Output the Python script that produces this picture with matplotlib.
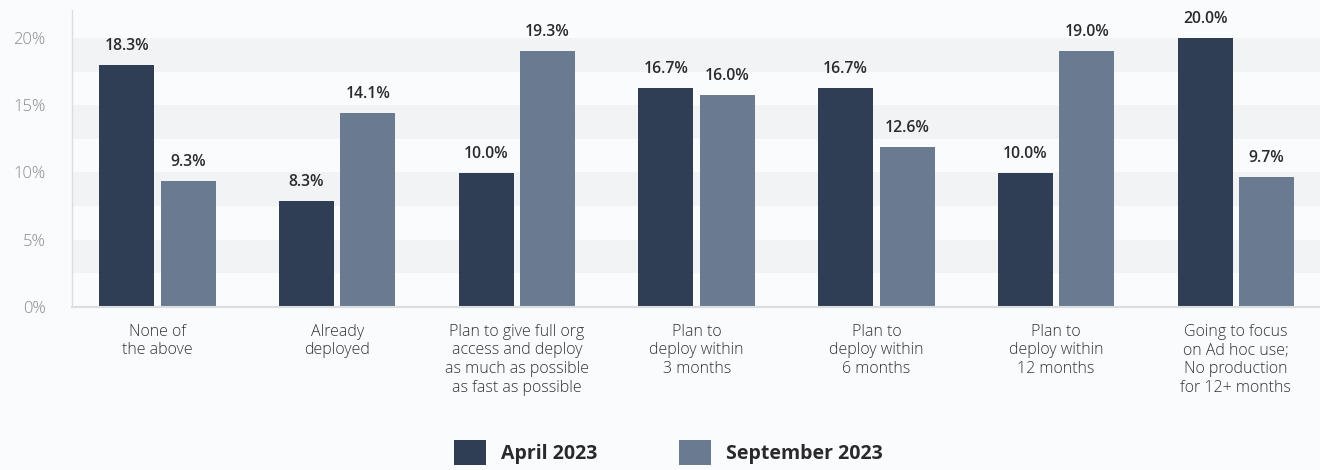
import numpy as np
import matplotlib
matplotlib.use("Agg")
import matplotlib.pyplot as plt
from matplotlib.patches import Patch

categories = [
    "None of\nthe above",
    "Already\ndeployed",
    "Plan to give full org\naccess and deploy\nas much as possible\nas fast as possible",
    "Plan to\ndeploy within\n3 months",
    "Plan to\ndeploy within\n6 months",
    "Plan to\ndeploy within\n12 months",
    "Going to focus\non Ad hoc use;\nNo production\nfor 12+ months",
]
series_names = ["April 2023", "September 2023"]
# printed labels
april_labels = [18.3, 8.3, 10.0, 16.7, 16.7, 10.0, 20.0]
sept_labels = [9.3, 14.1, 19.3, 16.0, 12.6, 19.0, 9.7]
# bar heights as drawn in the picture
april_bars = [18.0, 7.9, 9.95, 16.3, 16.3, 9.95, 20.0]
sept_bars = [9.35, 14.45, 19.05, 15.75, 11.9, 19.05, 9.7]
y_ticks = [0, 5, 10, 15, 20]

dark = "#2f3e55"
light = "#6a7b91"
bg = "#fafbfc"
band = "#f2f3f5"
txt = "#2a2a2e"

plt.rcParams["font.family"] = ["Open Sans", "DejaVu Sans"]

fig = plt.figure(figsize=(13.2, 4.7), dpi=100, facecolor=bg)
ax = fig.add_axes([72 / 1320, 1 - 307 / 470, 1 - 72 / 1320, 297 / 470])
ax.set_facecolor(bg)

# alternating background bands
for lo in np.arange(2.5, 20, 5):
    ax.axhspan(lo, lo + 2.5, color=band, zorder=0, lw=0)

x = np.arange(len(categories))
w = 0.305
off = 0.171
b1 = ax.bar(x - off, april_bars, w, color=dark, zorder=2, label=series_names[0])
b2 = ax.bar(x + off, sept_bars, w, color=light, zorder=2, label=series_names[1])

for bars, labels in ((b1, april_labels), (b2, sept_labels)):
    for rect, v in zip(bars, labels):
        ax.annotate(f"{v:.1f}%", (rect.get_x() + rect.get_width() / 2, rect.get_height()),
                    xytext=(0, 13.5), textcoords="offset points", ha="center", va="center",
                    fontsize=11.3, fontweight="semibold", color=txt)

ax.set_xlim(-0.475, 6.468)
ax.set_ylim(0, 22.08)
ax.set_yticks(y_ticks)
ax.set_yticklabels([f"{t}%" for t in y_ticks], fontsize=12, color="#8a8a8e", fontweight="light")
ax.set_xticks(x)
ax.set_xticklabels(categories, fontsize=11.5, color="#333336", fontweight="light", linespacing=1.22, va="top")
ax.tick_params(axis="both", length=0)
ax.tick_params(axis="y", pad=19)
ax.tick_params(axis="x", pad=12)

for s in ("top", "right"):
    ax.spines[s].set_visible(False)
ax.spines["left"].set_color("#dcdde0")
ax.spines["bottom"].set_color("#dcdde0")
ax.spines["left"].set_linewidth(1.0)
ax.spines["bottom"].set_linewidth(1.5)

handles = [Patch(facecolor=dark, label=series_names[0]), Patch(facecolor=light, label=series_names[1])]
fig.legend(handles=handles, loc="upper center", bbox_to_anchor=(0.5064, 1 - 422 / 470), ncol=2,
           frameon=False, prop={"size": 14, "weight": "bold"}, handlelength=1.65, handleheight=1.65,
           handletextpad=0.77, columnspacing=4.2, labelcolor=txt)

fig.savefig("out.png", dpi=100, facecolor=bg)
